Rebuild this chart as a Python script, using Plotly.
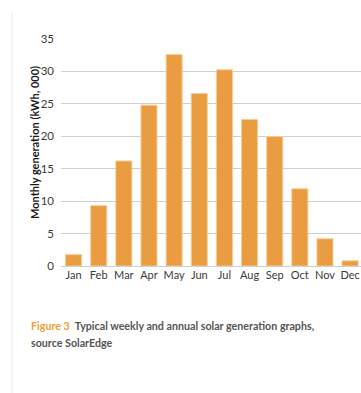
import plotly.graph_objects as go

months = ["Jan", "Feb", "Mar", "Apr", "May", "Jun", "Jul", "Aug", "Sep", "Oct", "Nov", "Dec"]
generation = [1.75, 9.3, 16.2, 24.8, 32.6, 26.6, 30.25, 22.6, 19.95, 11.9, 4.2, 0.8]
y_ticks = [0, 5, 10, 15, 20, 25, 30, 35]

W, H = 361, 393
L, R, T, B = 61, 0, 39, 127
pw, ph = W - L - R, H - T - B

def px_x(x):
    return (x - L) / pw

def px_y(y):
    return (H - B - y) / ph

fig = go.Figure(go.Bar(
    x=list(range(len(months))), y=generation,
    marker=dict(color="#EA9C41", line=dict(color="#F6CD98", width=1)),
))

fig.update_layout(
    width=W, height=H,
    margin=dict(l=L, r=R, t=T, b=B, autoexpand=False),
    paper_bgcolor="white", plot_bgcolor="white",
    showlegend=False, bargap=0.36,
    font=dict(family="Lato", size=11, color="#3a3a3a"),
    xaxis=dict(
        range=[-0.5, -0.5 + pw / 25.14],
        tickmode="array", tickvals=list(range(len(months))), ticktext=months,
        showgrid=False, zeroline=False, showline=False, ticks="",
        tickfont=dict(size=11, color="#3a3a3a"), ticklabelstandoff=1,
    ),
    yaxis=dict(
        range=[0, 35], tickmode="array", tickvals=y_ticks,
        showgrid=True, gridcolor="#cfcfcf", gridwidth=1,
        zeroline=True, zerolinecolor="#cfcfcf", zerolinewidth=1,
        showline=False, ticks="", ticklabelstandoff=6,
        tickfont=dict(size=11.5, color="#3a3a3a"),
    ),
)

fig.add_shape(type="line", xref="paper", yref="paper",
              x0=px_x(12), x1=px_x(12), y0=px_y(12), y1=px_y(393),
              line=dict(color="#e3eaee", width=1))

fig.add_annotation(
    text="<b>Monthly generation (kWh, 000)</b>", textangle=-90,
    xref="paper", yref="paper", x=px_x(34), y=px_y(143),
    xanchor="center", yanchor="middle", showarrow=False,
    font=dict(family="Lato", size=11, color="#1a1a1a"),
)

fig.add_annotation(
    text="<b><span style='color:#F0A035'>Figure 3</span>  Typical weekly and annual solar generation graphs,</b>",
    xref="paper", yref="paper", x=px_x(29), y=px_y(325.7),
    xanchor="left", yanchor="middle", showarrow=False, align="left",
    font=dict(family="Lato", size=10.7, color="#555555"),
)
fig.add_annotation(
    text="<b>source SolarEdge</b>",
    xref="paper", yref="paper", x=px_x(29), y=px_y(342.3),
    xanchor="left", yanchor="middle", showarrow=False, align="left",
    font=dict(family="Lato", size=10.7, color="#555555"),
)

fig.write_html("out.html")
